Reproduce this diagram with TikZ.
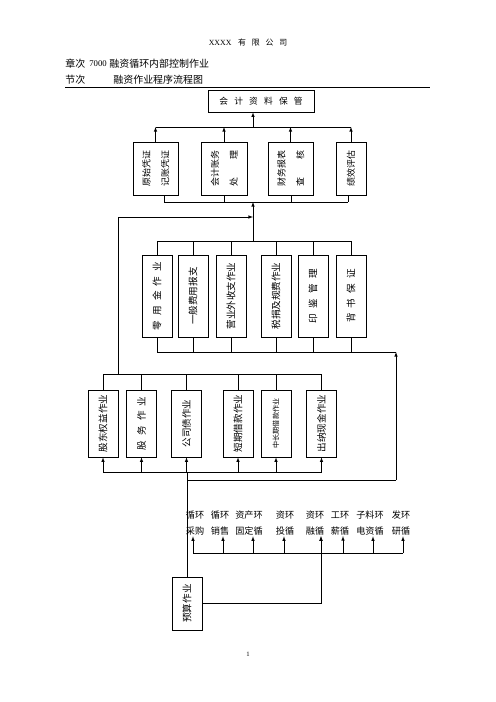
\documentclass[tikz,border=0pt]{standalone}
\usepackage{fontspec}
\setmainfont{Noto Sans CJK SC}
\newfontfamily\latinfont{Liberation Serif}
\usepackage{graphicx}
\newlength\px
\setlength\px{1.2bp}
\renewcommand\arraystretch{1.8}
\newcommand\twoline[2]{\begin{tabular}{@{}c@{}}#1\\#2\end{tabular}}
\newcommand\opbox[7][]{
		\node (#2) at (#3,#4) [box,minimum width=#5\px,minimum height=#6\px,#1] {\rotatebox{90}{#7}};
	}
\tikzset{
	box/.style={draw,inner sep=0pt,font=\fontsize{11.5}{13.8}\selectfont},
	head/.style={inner sep=0pt,anchor=west,font=\fontsize{12}{14}\selectfont},
	cyclabel/.style={inner sep=1pt,align=center,font=\fontsize{11}{19}\selectfont},
	smallbox/.style={font=\fontsize{10.8}{12.6}\selectfont},
}

\begin{document}
\begin{tikzpicture}[x=1.2bp,y=-1.2bp,every path/.style={>=latex,line width=0.9bp}]
		\useasboundingbox (0,0) rectangle (496,702);

		% draw heading
		\node (firm) at (248,43) [inner sep=0pt,font=\fontsize{9.5}{11}\selectfont] {{\latinfont XXXX}\hspace{8bp}有\hspace{7bp}限\hspace{7bp}公\hspace{7bp}司};
		\node (chap) at (65,64) [head] {章次};
		\node (chapno) at (89,64) [head,font=\fontsize{10.5}{12}\selectfont\latinfont] {7000};
		\node (chapname) at (109,64) [head] {融资循环内部控制作业};
		\node (sec) at (65,80) [head] {节次};
		\node (secname) at (113,80) [head] {融资作业程序流程图};
		\draw (65,87) -- (430,87);
		\node (pageno) at (248,654) [inner sep=0pt,font=\fontsize{8}{9}\selectfont\latinfont] {1};

		% draw archive box
		\node (acct) at (261,101) [box,minimum width=106\px,minimum height=22\px,font=\fontsize{10.5}{12.6}\selectfont]
			{\makebox[100bp][s]{会\hfill 计\hfill 资\hfill 料\hfill 保\hfill 管}};

		% draw accounting boxes
		\opbox[smallbox]{v1}{155.5}{168.5}{45}{53}{\twoline{原始凭证}{记账凭证}}
		\opbox[smallbox]{v2}{224}{168.5}{46}{53}{\twoline{会计账务}{\makebox[4em][s]{处\hfill 理}}}
		\opbox[smallbox]{v3}{290.5}{168.5}{45}{53}{\twoline{财务报表}{\makebox[4em][s]{查\hfill 核}}}
		\opbox[smallbox]{v4}{351}{168.5}{30}{53}{绩效评估}

		% draw expense boxes
		\opbox{e1}{157}{296}{30}{82}{\makebox[82bp][s]{零\hfill 用\hfill 金\hfill 作\hfill 业}}
		\opbox{e2}{193}{296}{30}{82}{一般费用报支}
		\opbox{e3}{231}{296}{30}{82}{营业外收支作业}
		\opbox{e4}{276}{296}{30}{82}{税捐及规费作业}
		\opbox{e5}{313}{296}{30}{82}{\makebox[66bp][s]{印\hfill 鉴\hfill 管\hfill 理}}
		\opbox{e6}{351}{296}{30}{82}{\makebox[64bp][s]{背\hfill 书\hfill 保\hfill 证}}

		% draw financing boxes
		\opbox{f1}{103}{423.5}{30}{67}{股东权益作业}
		\opbox{f2}{141.5}{423.5}{30}{67}{\makebox[64bp][s]{股\hfill 务\hfill 作\hfill 业}}
		\opbox{f3}{186.5}{423.5}{30}{67}{公司债作业}
		\opbox{f4}{238}{423.5}{30}{67}{短期借款作业}
		\opbox{f5}{276}{423.5}{30}{67}{{\fontsize{8.5}{10}\selectfont 中长期借款作业}}
		\opbox{f6}{321.5}{423.5}{30}{67}{出纳现金作业}

		% draw budget box
		\opbox{budget}{187}{603.5}{30}{53}{预算作业}

		% draw cycle labels
		\foreach \i/\x/\a/\b in {1/195/循环/采购,2/220/循环/销售,3/249/资产环/固定循,4/285/资环/投循,
			5/315/资环/融循,6/340/工环/薪循,7/370/子料环/电资循,8/401/发环/研循}
		{
			\node (c\i) at (\x,523) [cyclabel] {\a\\\b};
		}

		% connect accounting boxes to archive
		\coordinate (topbus) at (0,127);
		\foreach \n in {v1,v2,v3,v4}
		{
			\draw[->] (\n.north) -- (\n.north |- topbus);
		}
		\draw (v1.north |- topbus) -- (v4.north |- topbus);
		\coordinate (j1) at (253,127);
		\draw[->] (j1) -- (j1 |- acct.south);

		% join accounting boxes below
		\foreach \n/\x in {v1/164,v2/224,v3/291,v4/348}
		{
			\coordinate (s\n) at (\x,202);
			\draw (\n.south -| s\n) -- (s\n);
		}
		\draw (sv1) -- (sv4);

		% connect expense boxes
		\coordinate (feed) at (253,241);
		\draw[->] (feed) -- (feed |- sv1);
		\foreach \n in {e1,e2,e3,e4,e5,e6}
		{
			\draw (\n.north) -- (\n.north |- feed);
		}
		\draw (e1.north |- feed) -- (e6.north |- feed);
		\coordinate (midbus) at (0,352);
		\foreach \n in {e1,e2,e3,e4,e5,e6}
		{
			\draw (\n.south) -- (\n.south |- midbus);
		}

		% connect financing boxes
		\coordinate (l4top) at (0,374);
		\foreach \n in {f1,f2,f3,f4,f5,f6}
		{
			\draw (\n.north) -- (\n.north |- l4top);
		}
		\draw (f1.north |- l4top) -- (f6.north |- l4top);
		\coordinate (side) at (118,217);
		\draw (side |- l4top) -- (side);
		\draw[->] (side) -- (side -| feed);
		\coordinate (botbus) at (0,472);
		\foreach \n in {f1,f2,f3,f4,f5,f6}
		{
			\draw[->] (\n.south |- botbus) -- (\n.south);
		}
		\draw (f1.south |- botbus) -- (f6.south |- botbus);

		% connect budget box
		\draw (budget.north) -- (budget.north |- botbus);
		\coordinate (ret) at (396,480);
		\draw (budget.north |- ret) -- (ret);
		\draw[->] (ret) -- (ret |- midbus);
		\draw (e1.south |- midbus) -- (ret |- midbus);

		% connect cycle labels
		\foreach \i/\x in {1/193,2/223,3/253,4/284,5/321,6/343,7/373,8/403}
		{
			\coordinate (a\i) at (\x,553);
			\draw[->] (a\i) -- (a\i |- c\i.south);
		}
		\draw (a1) -- (a8);
		\draw[->] (budget.east) -| (a5 |- c5.south);
	\end{tikzpicture}
\end{document}
